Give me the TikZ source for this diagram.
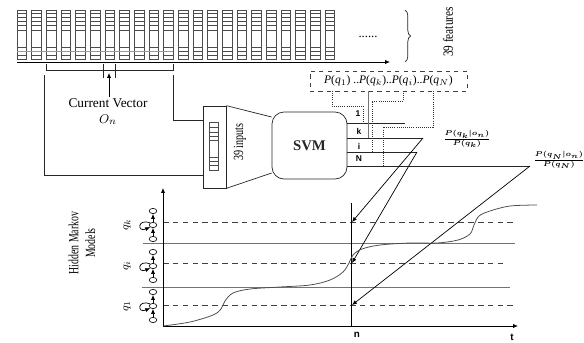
\documentclass[tikz,border=0pt]{standalone}
\usepackage{fontspec}
\setmainfont{Liberation Serif}
\setsansfont{Liberation Sans}
\usepackage{graphicx}
\usetikzlibrary{arrows.meta,positioning,shapes.geometric,decorations.pathreplacing,calc}

\begin{document}
\begin{tikzpicture}[x=0.25mm, y=-0.25mm,
  ln/.style={line width=0.5pt, black!85},
  vec/.style={line width=0.45pt, black!70},
  hline/.style={line width=0.55pt, black!55},
  dline/.style={line width=0.55pt, black!75, dash pattern=on 4pt off 3pt},
  pline/.style={line width=0.5pt, black!80, densely dotted},
  arr/.style={-{Latex[length=3.5pt,width=3pt]}, line width=0.5pt},
  state/.style={ellipse, draw, line width=0.45pt, minimum width=1.9mm, minimum height=1.3mm, inner sep=0pt},
  outlbl/.style={font=\sffamily\bfseries\fontsize{6}{7}\selectfont, inner sep=0pt},
  ratio/.style={font=\fontsize{7}{8}\selectfont, inner sep=0pt}]

\useasboundingbox (0,0) rectangle (584,342);

% feature vectors
\foreach \i in {0,...,21}{
  \pgfmathsetmacro{\xa}{17+14.67*\i}
  \draw[vec] (\xa,10) rectangle ++(9.5,49);
  \foreach \yy in {13,17,21,25,30,47,51,55}
    \draw[vec] (\xa,\yy) -- ++(9.5,0);
}
\draw[vec, black!40] (17,51) -- (173,51);

\coordinate (vstart) at (17,62);
\coordinate (vend) at (390,62);
\draw[arr] (vstart) -- (vend);

\node[font=\small] (dots) at (368,37) {......};

\coordinate (bt) at (405,10);
\coordinate (bb) at (405,62);
\draw[ln, decorate, decoration={brace, amplitude=4pt}] (bt) -- (bb);
\node[rotate=90, font=\fontsize{10}{12}\selectfont] (nfeat) at (448,32) {\scalebox{0.8}[1]{39 features}};

% current vector
\draw[ln] (46,64) -- (46,70) -- (173,70) -- (173,64);
\coordinate (cvtip) at (109,73);
\draw[ln] (103,64) -- (103,78);
\draw[ln] (115,64) -- (115,78);
\node[align=center, font=\fontsize{9.5}{11}\selectfont, inner sep=1pt] (cv) at (108,112) {Current Vector\\$O_n$};
\draw[arr] (cv.north -| cvtip) -- (cvtip);

% input module and svm
\node[draw, ln, minimum width=5.75mm, minimum height=20.5mm, inner sep=0pt] (inbox) at (214.5,147) {};
\node[draw, vec, minimum width=2.25mm, minimum height=12mm, inner sep=0pt] (invec) at (213.5,146) {};
\foreach \yy in {127,132,136,140,157,161,165}
  \draw[vec] (209,\yy) -- (218,\yy);

\node[draw, ln, rounded corners=3mm, minimum width=18.75mm, minimum height=16.75mm, font=\fontsize{10.5}{12}\selectfont\bfseries] (svm) at (309.5,145.5) {SVM};

\draw[ln] (inbox.north east) -- ($(svm.west)+(0,-28.5)$);
\draw[ln] (inbox.south east) -- ($(svm.west)+(0,27.5)$);
\node[rotate=90, font=\fontsize{10}{12}\selectfont] (nin) at (240,142) {\scalebox{0.72}[1]{39 inputs}};

\coordinate (bl) at (44,75);
\coordinate (br) at (173,75);
\coordinate (inlo) at (203,175);
\coordinate (inhi) at (203,120);
\draw[ln] (bl) |- (inlo);
\draw[ln] (br) |- (inhi);

% svm outputs
\coordinate (e1) at (405,123);
\coordinate (ek) at (423,138);
\coordinate (ei) at (417,152);
\coordinate (eN) at (530,166);
\draw[ln] (svm.east |- e1) -- (e1);
\draw[ln] (svm.east |- ek) -- (ek);
\draw[ln] (svm.east |- ei) -- (ei);
\draw[ln] (svm.east |- eN) -- (eN);

\node[outlbl] (o1) at (358,114) {1};
\node[outlbl] (ok) at (359,131) {k};
\node[outlbl] (oi) at (359,146) {i};
\node[outlbl] (oN) at (359,159) {N};

% priors
\node[draw, dashed, line width=0.5pt, black!75, text=black, minimum width=39.25mm, minimum height=5mm, inner sep=0pt, font=\fontsize{8.2}{10}\selectfont] (pbox) at (388.5,81) {\textit{P}(\textit{q}$_1$) ..\textit{P}(\textit{q}$_k$)..\textit{P}(\textit{q}$_i$)..\textit{P}(\textit{q}$_N$)};

\coordinate (pq1) at (332,91);
\coordinate (pqk) at (368,91);
\coordinate (pqi) at (403,91);
\coordinate (pqN) at (433,91);
\coordinate (c1) at (363,123);
\coordinate (ck) at (368,138);
\coordinate (ci) at (372,152);
\coordinate (cN) at (383,166);
\draw[pline] (pq1) -- ++(0,15) -| (c1);
\draw[ln, black!55] (pqk) -- (ck);
\draw[pline] (pqi) -- ++(0,10) -| (ci);
\draw[pline] (pqN) -- ++(0,36) -| (cN);

\node[ratio] (fk) at (467,139) {{\boldmath$\frac{P(q_k|o_n)}{P(q_k)}$}};
\node[ratio] (fN) at (559,160) {{\boldmath$\frac{P(q_N|o_n)}{P(q_N)}$}};

% hmm chart
\coordinate (org) at (163,326);
\coordinate (ytop) at (163,188);
\coordinate (xend) at (518,326);
\coordinate (ntop) at (351,203);
\coordinate (tk) at (352,222);
\coordinate (ti) at (352,263);
\coordinate (tN) at (352,305);

\draw[dline] (org |- tk) -- (517,222);
\draw[dline] (org |- ti) -- (507,263);
\draw[dline] (org |- tN) -- (517,305);
\draw[hline] (143,243) -- (515,243);
\draw[hline] (142,287) -- (510,287);

\draw[arr] (org) -- (ytop);
\draw[arr] (org) -- (xend);
\draw[line width=0.65pt] (ntop) -- (ntop |- org);
\node[outlbl, font=\sffamily\bfseries\fontsize{7}{8}\selectfont] (nlbl) at (357,335) {n};
\node[outlbl, font=\sffamily\bfseries\fontsize{7}{8}\selectfont] (tlbl) at (512,337) {t};

\draw[arr] (ek) -- (tk);
\draw[arr] (ei) -- (ti);
\draw[arr] (eN) -- (tN);

\draw[hline, black!70] plot[smooth, tension=0.55] coordinates {(163,326) (190,322) (213,315) (221,309) (225,301) (233,293) (250,289) (280,287) (310,285) (330,280) (343,272) (349,263) (353,255) (362,249) (380,245) (410,243) (437,243) (458,240) (470,234) (474,225) (479,216) (490,211) (510,206) (537,205)};

\foreach \c/\lbl [count=\j] in {225/q_k, 266/q_i, 306/q_1}{
  \node[state] (sa\j) at (153,\c+14) {};
  \node[state] (sb\j) at (153,\c) {};
  \node[state] (sc\j) at (153,\c-14) {};
  \draw[arr] (sa\j) -- (sb\j);
  \draw[arr] (sb\j) -- (sc\j);
  \draw[arr] (sb\j.north west) .. controls +(-13,-5) and +(-13,6) .. (sb\j.south west);
  \node[rotate=90, font=\fontsize{8}{9}\selectfont] (ql\j) at (127,\c) {$\lbl$};
}

\node[rotate=90, align=center, font=\fontsize{10}{12}\selectfont] (hmm) at (82,243) {\scalebox{0.7}[1]{Hidden Markov}\\\scalebox{0.7}[1]{Models}};

\end{tikzpicture}
\end{document}
